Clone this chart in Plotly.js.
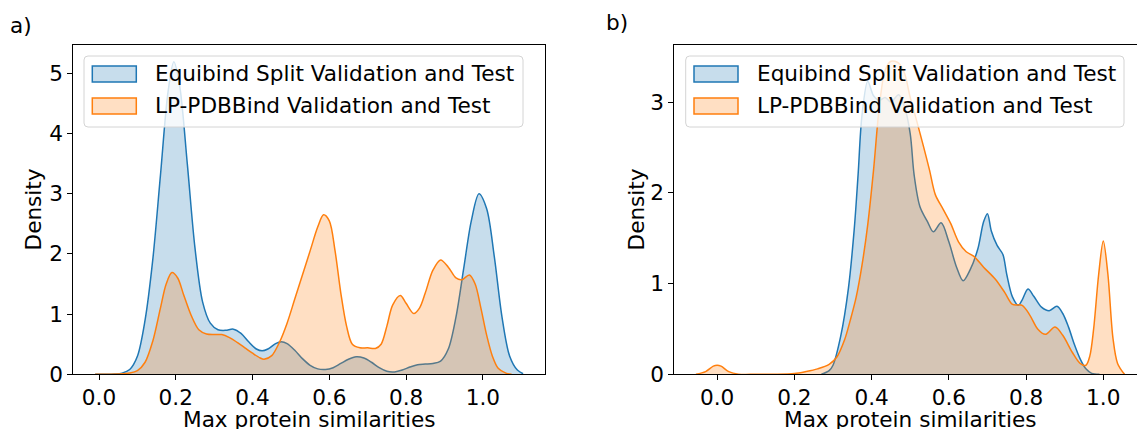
<!DOCTYPE html>
<html><head><meta charset="utf-8">
<script src="https://cdn.plot.ly/plotly-3.0.1.min.js"></script>
<style>html,body{margin:0;padding:0;background:#fff}#chart{width:1137px;height:429px}</style>
</head><body><div id="chart"></div>
<script>
// ---- data ----
const seriesNames = ['Equibind Split Validation and Test', 'LP-PDBBind Validation and Test'];
const panelLabels = ['a)', 'b)'];
const xTitle = 'Max protein similarities';
const yTitle = 'Density';
const xTickVals = [0, 0.2, 0.4, 0.6, 0.8, 1.0];

// panel a) Equibind split
const aEquiX = [-0.01,0.04,0.06,0.08,0.10,0.12,0.14,0.16,0.18,0.195,0.21,0.23,0.25,0.27,0.29,0.31,0.33,0.35,0.37,0.39,0.41,0.425,0.44,0.46,0.475,0.49,0.51,0.53,0.55,0.57,0.59,0.61,0.63,0.65,0.67,0.69,0.71,0.73,0.75,0.77,0.79,0.81,0.83,0.85,0.87,0.89,0.91,0.93,0.95,0.97,0.99,1.01,1.03,1.05,1.07,1.09,1.105];
const aEquiY = [0,0.005,0.02,0.08,0.30,0.90,1.9,3.3,4.7,5.19,4.8,3.5,2.1,1.2,0.85,0.74,0.73,0.75,0.68,0.54,0.42,0.39,0.42,0.51,0.54,0.51,0.40,0.26,0.15,0.09,0.08,0.11,0.18,0.25,0.29,0.27,0.20,0.11,0.05,0.04,0.07,0.12,0.16,0.17,0.18,0.22,0.42,0.95,1.75,2.55,3.0,2.75,1.95,0.95,0.30,0.07,0.01];
// panel a) LP-PDBBind
const aLpX = [-0.01,0.05,0.08,0.10,0.12,0.14,0.16,0.175,0.19,0.205,0.22,0.24,0.26,0.28,0.30,0.32,0.34,0.36,0.38,0.40,0.42,0.43,0.45,0.47,0.49,0.51,0.53,0.55,0.57,0.585,0.60,0.615,0.63,0.645,0.66,0.68,0.70,0.72,0.735,0.75,0.765,0.785,0.80,0.82,0.835,0.85,0.87,0.89,0.91,0.93,0.945,0.965,0.98,0.995,1.01,1.025,1.04,1.06,1.075];
const aLpY = [0,0.005,0.02,0.06,0.2,0.55,1.1,1.5,1.69,1.6,1.33,0.98,0.74,0.67,0.66,0.66,0.61,0.53,0.44,0.35,0.27,0.25,0.31,0.53,0.85,1.25,1.65,2.05,2.45,2.65,2.55,2.05,1.35,0.8,0.5,0.44,0.44,0.43,0.5,0.8,1.15,1.31,1.18,1.01,1.1,1.35,1.73,1.9,1.78,1.6,1.57,1.65,1.5,1.1,0.65,0.3,0.1,0.02,0];

// panel b) Equibind split
const bEquiX = [0.27,0.29,0.30,0.32,0.34,0.355,0.365,0.375,0.39,0.405,0.42,0.435,0.45,0.47,0.485,0.50,0.51,0.525,0.545,0.56,0.58,0.60,0.62,0.637,0.655,0.675,0.69,0.70,0.71,0.725,0.74,0.75,0.765,0.78,0.79,0.805,0.82,0.84,0.86,0.88,0.895,0.91,0.925,0.94,0.955,0.97,0.99];
const bEquiY = [0,0.04,0.10,0.42,0.95,1.6,2.2,2.85,3.23,3.07,3.02,3.05,3.0,3.08,2.95,2.65,2.2,1.85,1.68,1.57,1.67,1.46,1.18,1.03,1.15,1.38,1.68,1.77,1.58,1.42,1.32,1.1,0.85,0.76,0.82,0.94,0.86,0.74,0.70,0.75,0.67,0.52,0.33,0.17,0.06,0.01,0];
// panel b) LP-PDBBind
const bLpX = [-0.055,-0.03,-0.01,0.0,0.01,0.03,0.055,0.1,0.15,0.2,0.23,0.26,0.29,0.31,0.33,0.345,0.36,0.375,0.39,0.405,0.42,0.435,0.45,0.47,0.485,0.50,0.515,0.535,0.55,0.565,0.585,0.605,0.625,0.645,0.665,0.69,0.72,0.745,0.765,0.79,0.81,0.83,0.85,0.875,0.895,0.92,0.94,0.955,0.965,0.975,0.988,1.0,1.012,1.025,1.037,1.055];
const bLpY = [0,0.03,0.09,0.10,0.09,0.03,0.002,0,0,0.008,0.03,0.06,0.11,0.19,0.38,0.6,0.85,1.2,1.65,2.25,2.95,3.35,3.45,3.43,3.32,3.05,2.82,2.5,2.25,1.98,1.82,1.66,1.46,1.35,1.30,1.18,1.05,0.9,0.77,0.76,0.65,0.5,0.44,0.52,0.43,0.24,0.12,0.10,0.2,0.5,1.1,1.47,1.1,0.4,0.12,0];

// ---- styling / layout ----
const W = 1137, H = 429;
const px = v => v / W;
const py = v => 1 - v / H;
const colors = ['#1f77b4', '#ff7f0e'];
const fills = ['rgba(31,119,180,0.25)', 'rgba(255,127,14,0.25)'];
const FONT = 'DejaVu Sans';
const FS = 21.6;
const txtFont = {family: FONT, size: FS, color: '#000'};

function kde(x, y, i, xa, ya) {
  return {
    type: 'scatter', mode: 'lines', x: x, y: y, xaxis: xa, yaxis: ya,
    name: seriesNames[i], showlegend: false, hoverinfo: 'skip',
    fill: 'tozeroy', fillcolor: fills[i],
    line: {color: colors[i], width: 1.5, shape: 'spline', smoothing: 0.9}
  };
}

const traces = [
  kde(aEquiX, aEquiY, 0, 'x', 'y'),
  kde(aLpX, aLpY, 1, 'x', 'y'),
  kde(bEquiX, bEquiY, 0, 'x2', 'y2'),
  kde(bLpX, bLpY, 1, 'x2', 'y2')
];

const yDom = [py(374.3), py(44.7)];
function xAxis(domain, range, mirror) {
  return {
    domain: domain, range: range, tickvals: xTickVals, tickformat: '.1f',
    showline: true, linecolor: '#000', linewidth: 1, mirror: mirror,
    ticks: 'outside', ticklen: 5, tickwidth: 1, tickcolor: '#000', ticklabelstandoff: -1,
    showgrid: false, zeroline: false, tickfont: txtFont
  };
}
function yAxis(anchor, range, mirror) {
  return {
    domain: yDom, range: range, anchor: anchor, dtick: 1,
    showline: true, linecolor: '#000', linewidth: 1, mirror: mirror,
    ticks: 'outside', ticklen: 5, tickwidth: 1, tickcolor: '#000',
    showgrid: false, zeroline: false, tickfont: txtFont
  };
}

// legend boxes drawn as shapes + annotations (matplotlib style)
function roundRect(l, t, r, b, rad) {
  const rx = rad / W, ry = rad / H;
  const L = px(l), R = px(r), T = py(t), B = py(b);
  return 'M' + (L + rx) + ',' + T + ' L' + (R - rx) + ',' + T + ' Q' + R + ',' + T + ' ' + R + ',' + (T - ry) +
    ' L' + R + ',' + (B + ry) + ' Q' + R + ',' + B + ' ' + (R - rx) + ',' + B +
    ' L' + (L + rx) + ',' + B + ' Q' + L + ',' + B + ' ' + L + ',' + (B + ry) +
    ' L' + L + ',' + (T - ry) + ' Q' + L + ',' + T + ' ' + (L + rx) + ',' + T + ' Z';
}
const shapes = [], annotations = [];
const legendBoxes = [{l: 84, r: 523, patchL: 92.3, textL: 154}, {l: 685.7, r: 1124, patchL: 694, textL: 756}];
const rowCenters = [74, 106];
legendBoxes.forEach(lb => {
  shapes.push({type: 'path', xref: 'paper', yref: 'paper', layer: 'above',
    path: roundRect(lb.l, 56, lb.r, 127, 4),
    fillcolor: 'rgba(255,255,255,0.8)', line: {color: '#d4d4d4', width: 1}});
  seriesNames.forEach((nm, i) => {
    shapes.push({type: 'rect', xref: 'paper', yref: 'paper', layer: 'above',
      x0: px(lb.patchL), x1: px(lb.patchL + 44), y0: py(rowCenters[i] + 8), y1: py(rowCenters[i] - 8),
      fillcolor: fills[i], line: {color: colors[i], width: 1.5}});
    annotations.push({xref: 'paper', yref: 'paper', x: px(lb.textL), y: py(rowCenters[i]),
      xanchor: 'left', yanchor: 'middle', showarrow: false, text: nm, borderpad: 0, font: txtFont});
  });
});
// panel labels
annotations.push({xref: 'paper', yref: 'paper', x: px(9), y: py(25), xanchor: 'left', yanchor: 'middle',
  showarrow: false, text: panelLabels[0], borderpad: 0, font: txtFont});
annotations.push({xref: 'paper', yref: 'paper', x: px(605), y: py(23), xanchor: 'left', yanchor: 'middle',
  showarrow: false, text: panelLabels[1], borderpad: 0, font: txtFont});
// axis titles
[309, 910.3].forEach(cx => annotations.push({xref: 'paper', yref: 'paper', x: px(cx), y: py(419),
  xanchor: 'center', yanchor: 'middle', showarrow: false, text: xTitle, borderpad: 0, font: txtFont}));
[33, 636].forEach(cx => annotations.push({xref: 'paper', yref: 'paper', x: px(cx), y: py(209.5),
  xanchor: 'center', yanchor: 'middle', showarrow: false, text: yTitle, textangle: -90, borderpad: 0, font: txtFont}));

const layout = {
  width: W, height: H, margin: {l: 0, r: 0, t: 0, b: 0},
  paper_bgcolor: '#fff', plot_bgcolor: '#fff',
  font: txtFont,
  showlegend: false,
  xaxis: xAxis([px(73.3), px(545)], [-0.067, 1.162], true),
  yaxis: yAxis('x', [0, 5.475], true),
  xaxis2: Object.assign(xAxis([px(674.3), 1], [-0.111, 1.0873], true), {anchor: 'y2'}),
  yaxis2: yAxis('x2', [0, 3.632], false),
  shapes: shapes, annotations: annotations
};
layout.xaxis.anchor = 'y';

Plotly.newPlot('chart', traces, layout, {staticPlot: true, displayModeBar: false});
</script>
</body></html>
